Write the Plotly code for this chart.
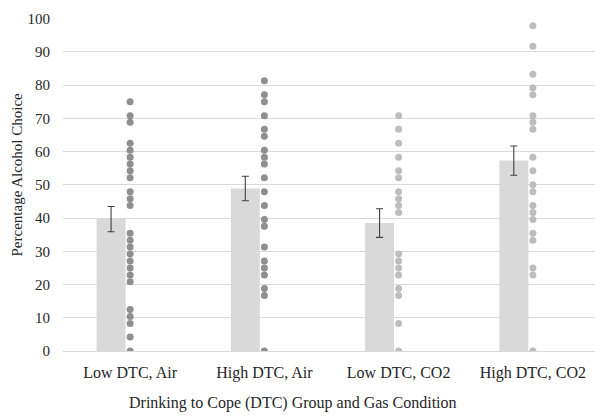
import plotly.graph_objects as go

# groups on the x axis
groups = ["Low DTC, Air", "High DTC, Air", "Low DTC, CO2", "High DTC, CO2"]

# group means and standard errors (percentage alcohol choice)
means = [39.7, 48.9, 38.5, 57.3]
sems = [3.8, 3.7, 4.3, 4.4]

# individual participant scores per group
low_air = [75.0, 70.8, 68.8, 62.5, 60.4, 58.3, 56.3, 54.2, 52.1, 47.9, 45.8, 43.8,
           35.4, 33.3, 31.3, 29.2, 27.1, 25.0, 22.9, 20.8, 12.5, 10.4, 8.3, 4.2, 0.0]
high_air = [81.3, 77.1, 75.0, 70.8, 66.7, 64.6, 60.4, 58.3, 56.3, 52.1, 47.9, 43.8,
            39.6, 37.5, 31.3, 27.1, 25.0, 22.9, 18.8, 16.7, 0.0]
low_co2 = [70.8, 66.7, 62.5, 58.3, 54.2, 52.1, 47.9, 45.8, 43.8, 41.7,
           29.2, 27.1, 25.0, 22.9, 18.8, 16.7, 8.3, 0.0]
high_co2 = [97.9, 91.7, 83.3, 79.2, 77.1, 70.8, 68.8, 66.7, 58.3, 54.2, 50.0,
            47.9, 43.8, 41.7, 39.6, 35.4, 33.3, 25.0, 22.9, 0.0]

points = [low_air, high_air, low_co2, high_co2]
dot_colors = ["#8f8f8f", "#8f8f8f", "#bdbdbd", "#bdbdbd"]

font = "Liberation Serif"
pos = list(range(len(groups)))

fig = go.Figure()
fig.add_bar(x=[p - 0.142 for p in pos], y=means, width=0.216,
            marker=dict(color="#d9d9d9", line=dict(width=0)),
            error_y=dict(type="data", array=sems, color="#404040",
                         thickness=1.1, width=3.5),
            showlegend=False)

for p, vals, col in zip(pos, points, dot_colors):
    fig.add_scatter(x=[p] * len(vals), y=vals, mode="markers",
                    marker=dict(color=col, size=7), showlegend=False)

# the page body adds an 8px margin, so the figure is a bit smaller than the window
fig.update_layout(
    width=595, height=408,
    margin=dict(l=55, r=3, t=5, b=65),
    plot_bgcolor="white", paper_bgcolor="white",
    font=dict(family=font, size=15, color="#262626"),
    xaxis=dict(range=[-0.5, 3.5], tickvals=pos, ticktext=groups,
               showgrid=False, zeroline=False, showline=False,
               ticks="", ticklabelstandoff=10,
               tickfont=dict(family=font, size=16)),
    yaxis=dict(range=[0, 100.2], tickvals=list(range(0, 101, 10)),
               showgrid=True, gridcolor="#d9d9d9",
               gridwidth=1, zeroline=True, zerolinecolor="#d9d9d9",
               zerolinewidth=1, showline=False, ticks="",
               ticklabeloverflow="allow",
               ticklabelstandoff=12, tickfont=dict(family=font, size=15)),
    annotations=[
        dict(text="Percentage Alcohol Choice", textangle=-90,
             xref="paper", yref="paper", x=-46 / 537, y=0.53,
             xanchor="center", yanchor="middle", showarrow=False,
             font=dict(family=font, size=15)),
        dict(text="Drinking to Cope (DTC) Group and Gas Condition",
             xref="paper", yref="paper", x=0.428, y=-53 / 338,
             xanchor="center", yanchor="middle", showarrow=False,
             font=dict(family=font, size=16)),
    ],
)

fig.write_html("out.html")
